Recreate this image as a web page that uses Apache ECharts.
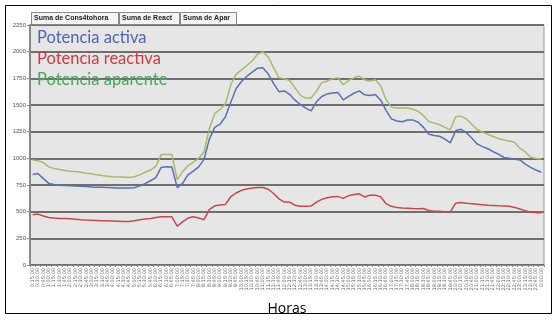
<!DOCTYPE html>
<html><head><meta charset="utf-8">
<script src="https://cdn.jsdelivr.net/npm/echarts@6/dist/echarts.min.js"></script>
<style>html,body{margin:0;padding:0;background:#fff}#c{width:558px;height:321px}</style>
</head><body><div id="c"></div>
<script>
const categories = [];
for (let i = 1; i <= 96; i++) {
  const m = i * 15, h = Math.floor(m / 60) % 24, mm = m % 60;
  categories.push(h + ':' + (mm < 10 ? '0' : '') + mm + ':00');
}
const seriesNames = ['Potencia activa', 'Potencia reactiva', 'Potencia aparente'];
const activa = [848,858,810,765,755,748,745,744,740,738,735,732,730,728,726,724,722,722,722,725,
742,762,790,820,915,920,919,725,765,845,880,920,990,1180,1290,1320,1390,1525,1655,1720,
1770,1808,1845,1850,1790,1700,1625,1632,1600,1545,1505,1470,1445,1530,1580,1604,1612,1618,1548,1580,
1610,1632,1595,1590,1598,1545,1450,1370,1350,1343,1360,1360,1338,1290,1225,1215,1207,1180,1145,1260,
1272,1240,1190,1135,1110,1090,1062,1040,1008,1000,992,985,945,915,890,870];
const reactiva = [472,477,460,445,440,437,436,434,430,425,422,420,418,416,414,412,410,408,407,415,
425,432,437,445,452,452,452,365,405,440,452,440,425,520,555,563,568,640,675,700,
712,722,727,727,710,670,620,590,590,560,550,550,552,590,615,630,640,643,625,650,
660,667,638,655,655,640,575,550,538,535,533,530,528,530,510,505,503,500,498,580,
585,578,575,570,565,560,558,555,553,550,540,525,510,495,491,491];
const aparente = [985,978,960,920,905,895,885,880,876,870,860,855,845,838,832,828,826,824,820,828,
845,870,890,925,1035,1035,1035,800,875,930,965,1000,1060,1280,1420,1460,1510,1690,1790,1830,
1870,1915,1975,1998,1950,1850,1755,1745,1730,1660,1590,1565,1565,1630,1710,1725,1745,1755,1690,1730,
1755,1772,1735,1725,1736,1680,1550,1480,1472,1472,1472,1460,1440,1400,1345,1330,1315,1290,1268,1390,
1395,1368,1320,1270,1245,1225,1205,1185,1172,1162,1150,1095,1060,1010,998,995];
const yTicks = [0,250,500,750,1000,1250,1500,1750,2000,2250];
const buttons = ['Suma de Cons4tohora', 'Suma de React', 'Suma de Apar'];
const buttonWidths = [87, 60, 56];

const lineColors = ['#5671b5', '#c9474a', '#a9b96c'];
const legendColors = ['#4f63b3', '#d2383f', '#46a85a'];

const graphics = [{type:'rect', shape:{x:5.5,y:5.5,width:546,height:308}, style:{fill:'none',stroke:'#000',lineWidth:1}, silent:true}];
let bx = 31;
buttons.forEach((b, i) => {
  graphics.push({type:'rect', shape:{x:bx+0.5,y:12.5,width:buttonWidths[i],height:12}, style:{fill:'#f4f4f4',stroke:'#888',lineWidth:1}, z:10});
  graphics.push({type:'text', x:bx+3, y:18.5, style:{text:b, font:'bold 7px "Liberation Sans", Arial', fill:'#222', verticalAlign:'middle'}, z:11});
  bx += buttonWidths[i] + 1;
});

const chart = echarts.init(document.getElementById('c'));
chart.setOption({
  animation: false,
  backgroundColor: '#fff',
  graphic: graphics,
  grid: {left: 30, top: 25, right: 14, bottom: 52, show: true, backgroundColor: '#e6e6e6', borderColor: '#9a9a9a', borderWidth: 1},
  legend: {
    orient: 'vertical', left: 37, top: 28, padding: 0, icon: 'none', itemGap: 3, itemWidth: 0, itemHeight: 19,
    textStyle: {fontSize: 16.5, fontFamily: 'Lato, "Liberation Sans", sans-serif', padding: [0,0,0,-5]},
    data: seriesNames.map((n, i) => ({name: n, textStyle: {color: legendColors[i]}}))
  },
  xAxis: {
    type: 'category', data: categories, boundaryGap: true,
    name: 'Horas', nameLocation: 'middle', nameGap: 37,
    nameTextStyle: {fontSize: 14, color: '#000', fontFamily: '"Open Sans", "Liberation Sans", sans-serif'},
    axisLine: {lineStyle: {color: '#888', width: 1}},
    axisTick: {show: true, interval: 0, length: 2, lineStyle: {color: '#888'}},
    axisLabel: {interval: 0, rotate: 90, fontSize: 5, color: '#666', margin: 3, fontFamily: '"DejaVu Sans"'}
  },
  yAxis: {
    type: 'value', min: 0, max: 2250, interval: 250,
    axisLine: {show: true, lineStyle: {color: '#888', width: 2}},
    axisTick: {show: true, length: 3, lineStyle: {color: '#888'}},
    axisLabel: {fontSize: 6, color: '#555', margin: 4,
      formatter: v => yTicks.includes(v) ? String(v) : ''},
    splitLine: {lineStyle: {color: '#6f6f6f', width: 2}}
  },
  series: [
    {name: seriesNames[0], type: 'line', data: activa, symbol: 'none', lineStyle: {width: 1.5, color: lineColors[0]}, itemStyle: {color: lineColors[0]}},
    {name: seriesNames[1], type: 'line', data: reactiva, symbol: 'none', lineStyle: {width: 1.5, color: lineColors[1]}, itemStyle: {color: lineColors[1]}},
    {name: seriesNames[2], type: 'line', data: aparente, symbol: 'none', lineStyle: {width: 1.5, color: lineColors[2]}, itemStyle: {color: lineColors[2]}}
  ]
});
</script></body></html>
